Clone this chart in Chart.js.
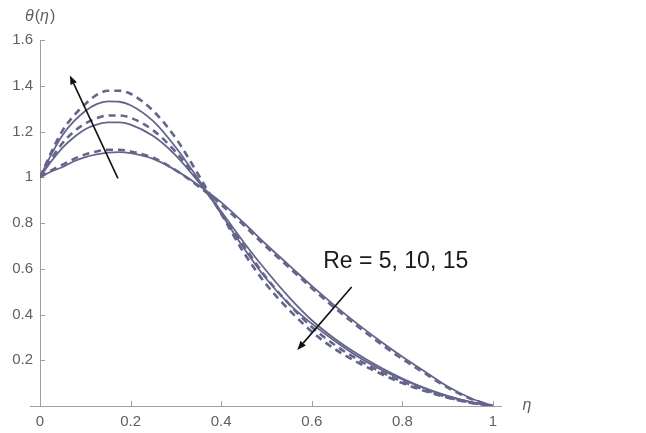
<!DOCTYPE html>
<html>
<head>
<meta charset="utf-8">
<script src="https://cdn.jsdelivr.net/npm/chart.js@4/dist/chart.umd.min.js"></script>
<style>
  html, body { margin: 0; padding: 0; background: #ffffff; }
  #wrap { width: 646px; height: 433px; position: relative; }
</style>
</head>
<body>
<div id="wrap"><canvas id="c" width="646" height="433"></canvas></div>
<script>
// ---- data ----
const etas = [0, 0.025, 0.05, 0.075, 0.1, 0.125, 0.15, 0.175, 0.2, 0.25, 0.3, 0.35, 0.4, 0.45, 0.5, 0.55, 0.6, 0.65, 0.7, 0.75, 0.8, 0.85, 0.9, 0.95, 1];

const re5Solid   = [1, 1.025, 1.045, 1.07, 1.088, 1.10, 1.108, 1.11, 1.105, 1.08, 1.03, 0.965, 0.89, 0.80, 0.705, 0.615, 0.525, 0.44, 0.36, 0.285, 0.215, 0.15, 0.085, 0.035, 0];
const re5Dashed  = [1, 1.03, 1.055, 1.08, 1.10, 1.113, 1.12, 1.12, 1.113, 1.085, 1.03, 0.96, 0.88, 0.79, 0.695, 0.605, 0.515, 0.43, 0.35, 0.275, 0.205, 0.142, 0.08, 0.032, 0];
const re10Solid  = [1, 1.07, 1.13, 1.175, 1.21, 1.23, 1.24, 1.24, 1.23, 1.18, 1.095, 0.98, 0.85, 0.715, 0.59, 0.475, 0.375, 0.295, 0.228, 0.17, 0.12, 0.078, 0.044, 0.018, 0];
const re10Dashed = [1, 1.08, 1.15, 1.20, 1.235, 1.258, 1.27, 1.27, 1.26, 1.205, 1.11, 0.985, 0.845, 0.70, 0.56, 0.445, 0.345, 0.268, 0.205, 0.152, 0.107, 0.07, 0.038, 0.015, 0];
const re15Solid  = [1, 1.10, 1.185, 1.245, 1.29, 1.32, 1.332, 1.33, 1.315, 1.245, 1.13, 0.99, 0.84, 0.69, 0.555, 0.445, 0.36, 0.285, 0.218, 0.162, 0.116, 0.076, 0.042, 0.017, 0];
const re15Dashed = [1, 1.11, 1.205, 1.27, 1.32, 1.36, 1.378, 1.378, 1.365, 1.29, 1.17, 1.01, 0.84, 0.67, 0.53, 0.42, 0.325, 0.25, 0.192, 0.143, 0.10, 0.065, 0.036, 0.014, 0];

const xTicks = [0, 0.2, 0.4, 0.6, 0.8, 1];
const yTicks = [0.2, 0.4, 0.6, 0.8, 1, 1.2, 1.4, 1.6];
const xTickLabels = ['0', '0.2', '0.4', '0.6', '0.8', '1'];
const yTickLabels = ['0.2', '0.4', '0.6', '0.8', '1', '1.2', '1.4', '1.6'];
const annotationLabel = 'Re = 5, 10, 15';

// ---- styling ----
const CURVE = '#65658c';
const AXIS = '#a0a0a0';
const LABEL = '#5f5f5f';
const FONT = '"Liberation Sans", Arial, sans-serif';

function series(arr) { return etas.map((x, i) => ({ x: x, y: arr[i] })); }
function solid(arr) {
  return { data: series(arr), borderColor: CURVE, borderWidth: 1.8, pointRadius: 0, fill: false, cubicInterpolationMode: 'monotone' };
}
function dashed(arr) {
  return { data: series(arr), borderColor: CURVE, borderWidth: 2.6, borderDash: [7, 5], pointRadius: 0, fill: false, cubicInterpolationMode: 'monotone' };
}

function arrow(ctx, x1, y1, x2, y2) {
  const ang = Math.atan2(y2 - y1, x2 - x1);
  const L = 9, W = 3.5;
  const bx = x2 - L * Math.cos(ang), by = y2 - L * Math.sin(ang);
  ctx.beginPath();
  ctx.moveTo(x1, y1);
  ctx.lineTo(bx, by);
  ctx.strokeStyle = '#111';
  ctx.lineWidth = 1.6;
  ctx.stroke();
  ctx.beginPath();
  ctx.moveTo(x2, y2);
  ctx.lineTo(bx + W * Math.sin(ang), by - W * Math.cos(ang));
  ctx.lineTo(bx - W * Math.sin(ang), by + W * Math.cos(ang));
  ctx.closePath();
  ctx.fillStyle = '#111';
  ctx.fill();
}

const decor = {
  id: 'decor',
  beforeDatasetsDraw(chart) {
    const ctx = chart.ctx;
    const xs = chart.scales.x, ys = chart.scales.y;
    const x0 = xs.getPixelForValue(0), y0 = ys.getPixelForValue(0);
    ctx.save();
    ctx.strokeStyle = AXIS;
    ctx.lineWidth = 1;
    // x axis
    ctx.beginPath();
    ctx.moveTo(x0 - 10, y0 + 0.5);
    ctx.lineTo(xs.getPixelForValue(1.02), y0 + 0.5);
    ctx.stroke();
    // y axis
    ctx.beginPath();
    ctx.moveTo(x0 + 0.5, y0);
    ctx.lineTo(x0 + 0.5, ys.getPixelForValue(1.6));
    ctx.stroke();
    // inward ticks
    xTicks.forEach(v => {
      const p = Math.round(xs.getPixelForValue(v)) + 0.5;
      ctx.beginPath(); ctx.moveTo(p, y0); ctx.lineTo(p, y0 - 5); ctx.stroke();
    });
    yTicks.forEach(v => {
      const p = Math.round(ys.getPixelForValue(v)) + 0.5;
      ctx.beginPath(); ctx.moveTo(x0, p); ctx.lineTo(x0 + 5, p); ctx.stroke();
    });
    // tick labels
    ctx.fillStyle = LABEL;
    ctx.font = '15px ' + FONT;
    ctx.textAlign = 'center'; ctx.textBaseline = 'middle';
    xTicks.forEach((v, i) => ctx.fillText(xTickLabels[i], xs.getPixelForValue(v), y0 + 16));
    ctx.textAlign = 'right';
    yTicks.forEach((v, i) => ctx.fillText(yTickLabels[i], x0 - 7, ys.getPixelForValue(v)));
    // axis titles
    ctx.textAlign = 'left';
    ctx.font = 'italic 16px ' + FONT;
    ctx.fillText('\u03B7', xs.getPixelForValue(1.065), y0);
    // θ(η)
    let tx = x0 - 15, ty = ys.getPixelForValue(1.6) - 23;
    ctx.font = 'italic 16px ' + FONT; ctx.fillText('\u03B8', tx, ty); tx += ctx.measureText('\u03B8').width + 1;
    ctx.font = '16px ' + FONT; ctx.fillText('(', tx, ty); tx += ctx.measureText('(').width;
    ctx.font = 'italic 16px ' + FONT; ctx.fillText('\u03B7', tx, ty); tx += ctx.measureText('\u03B7').width + 1;
    ctx.font = '16px ' + FONT; ctx.fillText(')', tx, ty);
    ctx.restore();
  },
  afterDatasetsDraw(chart) {
    const ctx = chart.ctx;
    const xs = chart.scales.x, ys = chart.scales.y;
    ctx.save();
    arrow(ctx, xs.getPixelForValue(0.172), ys.getPixelForValue(0.995), xs.getPixelForValue(0.066), ys.getPixelForValue(1.445));
    arrow(ctx, xs.getPixelForValue(0.688), ys.getPixelForValue(0.52), xs.getPixelForValue(0.568), ys.getPixelForValue(0.245));
    ctx.fillStyle = '#1a1a1a';
    ctx.font = '23px ' + FONT;
    ctx.textAlign = 'left'; ctx.textBaseline = 'alphabetic';
    ctx.fillText(annotationLabel, xs.getPixelForValue(0.625), ys.getPixelForValue(0.605));
    ctx.restore();
  }
};

new Chart(document.getElementById('c'), {
  type: 'line',
  data: {
    datasets: [
      solid(re5Solid), dashed(re5Dashed),
      solid(re10Solid), dashed(re10Dashed),
      solid(re15Solid), dashed(re15Dashed)
    ]
  },
  options: {
    responsive: false,
    animation: false,
    devicePixelRatio: 1,
    layout: { padding: { top: 40, right: 153, left: 0, bottom: 0 } },
    plugins: { legend: { display: false }, tooltip: { enabled: false } },
    scales: {
      x: {
        type: 'linear', min: 0, max: 1,
        grid: { display: false, drawTicks: false },
        border: { display: false },
        ticks: { display: false },
        afterFit(s) { s.height = 27; }
      },
      y: {
        type: 'linear', min: 0, max: 1.6,
        grid: { display: false, drawTicks: false },
        border: { display: false },
        ticks: { display: false },
        afterFit(s) { s.width = 40; }
      }
    }
  },
  plugins: [decor]
});
</script>
</body>
</html>
